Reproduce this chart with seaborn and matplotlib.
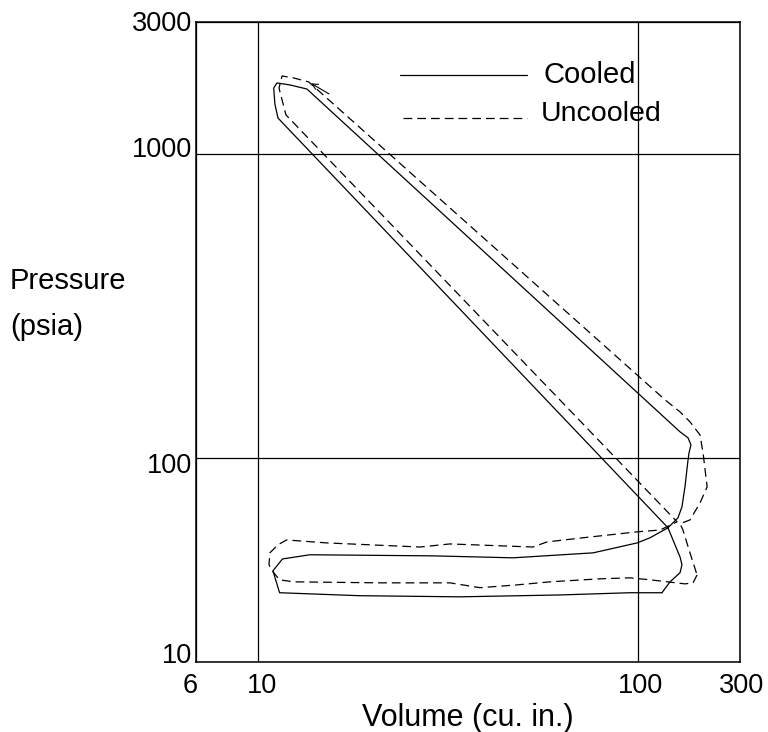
import numpy as np
import pandas as pd
import matplotlib
matplotlib.use("Agg")
import matplotlib.pyplot as plt
from matplotlib.transforms import ScaledTranslation
import seaborn as sns

# Cooled cycle: volume (cu. in.) and pressure (psia), traced in drawing order
cooled_volume = [115.6, 95.3, 62.4, 34.0, 18.5, 11.4, 10.95, 11.6, 13.7, 28.9,
                 46.9, 76.2, 99.4, 107.6, 119.9, 11.29, 11.08, 11.0, 11.22, 12.14,
                 13.45, 129.0, 135.4, 137.8, 136.2, 135.4, 132.9, 130.5, 127.4, 119.9,
                 123.6, 129.0, 130.5, 129.0, 121.4, 115.6]
cooled_pressure = [36.0, 36.0, 35.4, 34.9, 35.2, 36.0, 42.5, 46.5, 48.0, 47.6,
                   46.9, 48.7, 52.5, 54.6, 58.9, 1313, 1460, 1648, 1713, 1687,
                   1636, 121.8, 116.4, 110.4, 103.8, 98.5, 80.3, 69.0, 63.5, 58.9,
                   53.7, 47.2, 44.5, 41.9, 39.1, 36.0]

# Uncooled cycle
uncooled_volume = [143.0, 139.6, 132.9, 107.6, 95.3, 79.4, 58.7, 48.0, 38.4, 32.0,
                   20.9, 12.4, 11.4, 10.95, 10.69, 10.75, 11.29, 11.9, 15.2, 26.7,
                   32.0, 52.9, 57.6, 71.7, 99.4, 114.3, 126.7, 11.85, 11.36, 11.57,
                   12.43, 13.6, 117.8, 129.0, 137.0, 145.6, 148.3, 152.0, 145.6, 137.0,
                   129.0, 131.3, 137.0, 143.0]
uncooled_pressure = [41.2, 38.8, 38.5, 39.7, 40.3, 40.0, 39.1, 38.2, 37.4, 38.8,
                     38.8, 39.1, 39.7, 42.2, 44.5, 48.7, 51.8, 53.7, 52.5, 50.9,
                     52.1, 50.9, 52.9, 54.6, 57.1, 57.9, 61.6, 1344, 1648, 1806,
                     1778, 1726, 155.2, 141.7, 131.4, 119.0, 103.8, 80.3, 71.1, 62.5,
                     60.7, 57.9, 48.7, 41.2]

# Axis extent and tick labels
x_limits = (6.87, 185.5)
y_limits = (21.3, 2718.0)
x_tick_values = [x_limits[0], 10, 100, x_limits[1]]
x_tick_labels = ["6", "10", "100", "300"]
y_tick_values = [y_limits[0], 100, 1000, y_limits[1]]
y_tick_labels = ["10", "100", "1000", "3000"]

series_names = ["Cooled", "Uncooled"]

df = pd.concat([
    pd.DataFrame({"volume": cooled_volume, "pressure": cooled_pressure,
                  "series": series_names[0]}),
    pd.DataFrame({"volume": uncooled_volume, "pressure": uncooled_pressure,
                  "series": series_names[1]}),
], ignore_index=True)

sns.set_theme(style="white")
plt.rcParams["font.family"] = ["Liberation Sans", "DejaVu Sans"]
FS = 19.5

fig = plt.figure(figsize=(7.68, 7.32), dpi=100)
ax = fig.add_axes([196 / 768, 1 - 662 / 732, 544 / 768, 640 / 732])

ax.set_xscale("log")
ax.set_yscale("log")

sns.lineplot(data=df, x="volume", y="pressure", style="series",
             dashes={"Cooled": "", "Uncooled": (7, 4)},
             sort=False, estimator=None, color="black", linewidth=0.9,
             legend=False, ax=ax)

# small direction arrow at the top of the uncooled loop
ax.annotate("", xy=(13.6, 1726), xytext=(15.6, 1560),
            arrowprops=dict(arrowstyle="->", color="black", lw=0.8,
                            mutation_scale=10))

ax.set_xlim(*x_limits)
ax.set_ylim(*y_limits)
ax.set_xticks(x_tick_values)
ax.set_xticklabels(x_tick_labels)
ax.set_yticks(y_tick_values)
ax.set_yticklabels(y_tick_labels)
ax.minorticks_off()
ax.tick_params(axis="both", length=0, labelsize=FS, colors="black")
ax.tick_params(axis="x", pad=8)
ax.tick_params(axis="y", pad=3)

# per-label nudges (pixels at 100 dpi)
y_shift = {"10": 9, "100": -5, "1000": 7, "3000": 1}
for lab in ax.get_yticklabels():
    dy = y_shift.get(lab.get_text(), 0)
    lab.set_transform(lab.get_transform() + ScaledTranslation(0, dy / 100, fig.dpi_scale_trans))
x_shift = {"6": -6, "10": 4, "100": 2, "300": 2}
for lab in ax.get_xticklabels():
    dx = x_shift.get(lab.get_text(), 0)
    lab.set_transform(lab.get_transform() + ScaledTranslation(dx / 100, 0, fig.dpi_scale_trans))

ax.grid(True, which="major", color="black", linewidth=0.9)
for sp in ax.spines.values():
    sp.set_visible(True)
    sp.set_color("black")
    sp.set_linewidth(1.1)

ax.set_xlabel("Volume (cu. in.)", fontsize=22, color="black", labelpad=3)
ax.set_ylabel("")
fig.text(10 / 768, 1 - 281 / 732, "Pressure", fontsize=21,
         ha="left", va="center", color="black")
fig.text(10 / 768, 1 - 327 / 732, "(psia)", fontsize=21,
         ha="left", va="center", color="black")

# legend drawn inside the plot
ax.plot([0.375, 0.6085], [0.917, 0.917], transform=ax.transAxes,
        color="black", linewidth=0.9)
ax.plot([0.3805, 0.6085], [0.85, 0.85], transform=ax.transAxes,
        color="black", linewidth=0.9, dashes=(7, 4))
ax.text(0.638, 0.917, "Cooled", transform=ax.transAxes, fontsize=21,
        ha="left", va="center", color="black")
ax.text(0.634, 0.856, "Uncooled", transform=ax.transAxes, fontsize=20.5,
        ha="left", va="center", color="black")

fig.savefig("out.png", dpi=100)
